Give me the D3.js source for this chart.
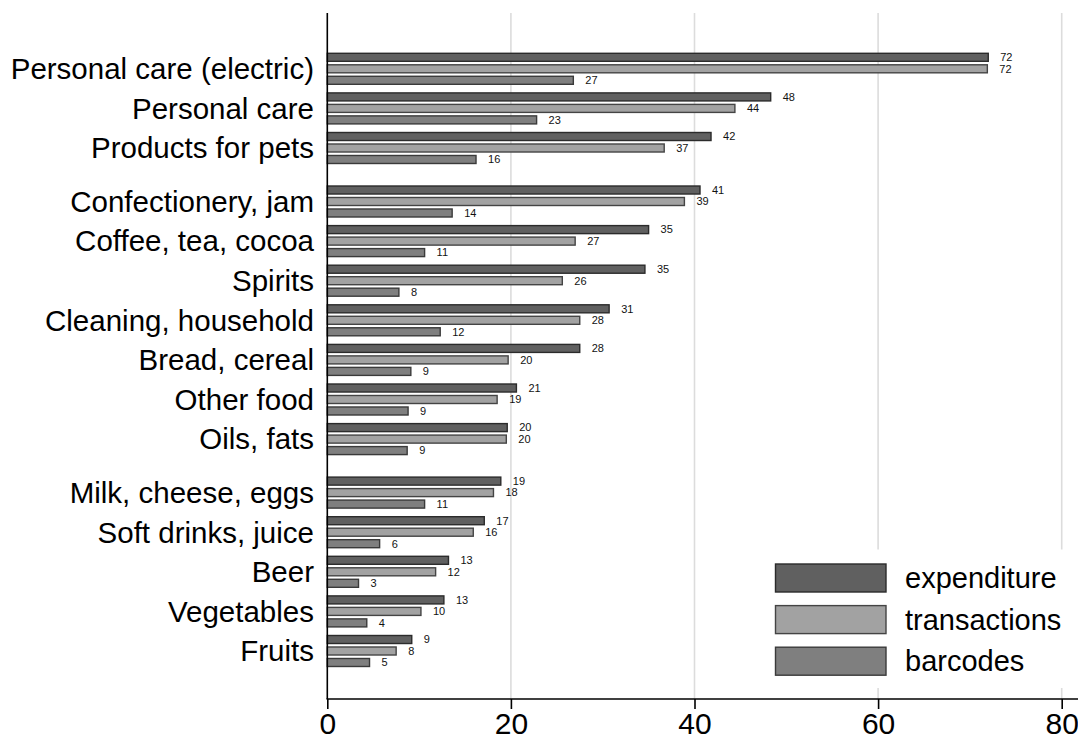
<!DOCTYPE html>
<html>
<head>
<meta charset="utf-8">
<script src="https://cdn.jsdelivr.net/npm/d3@7"></script>
<style>
  html, body { margin: 0; padding: 0; background: #fff; }
  svg { display: block; font-family: "Liberation Sans", Arial, Helvetica, sans-serif; }
</style>
</head>
<body>
<svg id="chart" width="1078" height="740"></svg>
<script>
// ---- data ----
const categories = [
  "Personal care (electric)", "Personal care", "Products for pets",
  "Confectionery, jam", "Coffee, tea, cocoa", "Spirits", "Cleaning, household",
  "Bread, cereal", "Other food", "Oils, fats",
  "Milk, cheese, eggs", "Soft drinks, juice", "Beer", "Vegetables", "Fruits"
];
const blocks = [0, 0, 0, 1, 1, 1, 1, 1, 1, 1, 2, 2, 2, 2, 2];
const seriesNames = ["expenditure", "transactions", "barcodes"];
const expenditure  = [72, 48.3, 41.8, 40.6, 35, 34.6, 30.7, 27.5, 20.6, 19.6, 18.9, 17.1, 13.2, 12.7, 9.2];
const transactions = [71.9, 44.4, 36.7, 38.9, 27, 25.6, 27.5, 19.7, 18.5, 19.5, 18.1, 15.9, 11.8, 10.2, 7.5];
const barcodes     = [26.8, 22.8, 16.2, 13.6, 10.6, 7.8, 12.3, 9.1, 8.8, 8.7, 10.6, 5.7, 3.4, 4.3, 4.6];
const labelExp   = [72, 48, 42, 41, 35, 35, 31, 28, 21, 20, 19, 17, 13, 13, 9];
const labelTrans = [72, 44, 37, 39, 27, 26, 28, 20, 19, 20, 18, 16, 12, 10, 8];
const labelBar   = [27, 23, 16, 14, 11, 8, 12, 9, 9, 9, 11, 6, 3, 4, 5];
const xTicks = [0, 20, 40, 60, 80];

const seriesValues = [expenditure, transactions, barcodes];
const seriesLabels = [labelExp, labelTrans, labelBar];
const fills = ["#606060", "#a2a2a2", "#7f7f7f"];
const strokes = ["#2b2b2b", "#444444", "#3a3a3a"];

// ---- layout ----
const svg = d3.select("#chart");
const blockGap = 0.351;
const pos = categories.map((c, i) => i + blocks[i] * blockGap);
const lastPos = pos[pos.length - 1];

const x = d3.scaleLinear().domain([0, 80]).range([327.3, 1061.7]);
const y = d3.scaleLinear().domain([0, lastPos]).range([68.8, 68.8 + lastPos * 39.6]);
const inner = d3.scaleBand().domain(seriesNames).range([-16.2, 16.2]).paddingInner(0.18).paddingOuter(0);

const axisY = 699;
const gridTop = 13;

// gridlines
svg.append("g").selectAll("line")
  .data(xTicks.filter(t => t > 0))
  .join("line")
  .attr("x1", d => x(d)).attr("x2", d => x(d))
  .attr("y1", gridTop).attr("y2", axisY)
  .attr("stroke", "#dcdcdc").attr("stroke-width", 1.6);

// bars
const groups = svg.append("g").selectAll("g")
  .data(categories)
  .join("g")
  .attr("transform", (d, i) => `translate(0,${y(pos[i])})`);

seriesNames.forEach((s, si) => {
  groups.append("rect")
    .attr("x", x(0))
    .attr("y", inner(s) + 0.7)
    .attr("width", (d, i) => x(seriesValues[si][i]) - x(0))
    .attr("height", inner.bandwidth() - 1.4)
    .attr("fill", fills[si])
    .attr("stroke", strokes[si])
    .attr("stroke-width", 1.4);
  groups.append("text")
    .attr("x", (d, i) => x(seriesValues[si][i]) + 12)
    .attr("y", inner(s) + inner.bandwidth() / 2)
    .attr("dy", "0.35em")
    .attr("font-size", 11)
    .attr("fill", "#111")
    .text((d, i) => seriesLabels[si][i]);
});

// category labels
groups.append("text")
  .attr("x", 314)
  .attr("y", 0)
  .attr("dy", "0.35em")
  .attr("text-anchor", "end")
  .attr("font-size", 29.5)
  .attr("fill", "#000")
  .text(d => d);

// left axis line
svg.append("line")
  .attr("x1", x(0)).attr("x2", x(0))
  .attr("y1", gridTop).attr("y2", axisY)
  .attr("stroke", "#000").attr("stroke-width", 1.6);

// legend (white background covering gridlines)
const legend = svg.append("g");
legend.append("rect")
  .attr("x", 765).attr("y", 549.5).attr("width", 313).attr("height", 138.5)
  .attr("fill", "#fff");
const legY = d3.scalePoint().domain(seriesNames).range([578, 661.2]);
seriesNames.forEach((s, si) => {
  legend.append("rect")
    .attr("x", 775.5).attr("y", legY(s) - 14)
    .attr("width", 110.5).attr("height", 28)
    .attr("fill", fills[si]).attr("stroke", strokes[si]).attr("stroke-width", 1.4);
  legend.append("text")
    .attr("x", 905).attr("y", legY(s)).attr("dy", "0.35em")
    .attr("font-size", 29).attr("fill", "#000")
    .text(s);
});

// bottom axis
const xAxis = d3.axisBottom(x).tickValues(xTicks).tickSize(10).tickPadding(4).tickFormat(d3.format("d"));
const ax = svg.append("g").attr("transform", `translate(0,${axisY})`).call(xAxis);
ax.select(".domain").remove();
ax.selectAll(".tick line").attr("stroke", "#000").attr("stroke-width", 1.6);
ax.selectAll(".tick text").attr("font-size", 30).attr("fill", "#000")
  .attr("font-family", "'Liberation Sans', Arial, sans-serif")
  .attr("dy", "0.71em");
svg.append("line")
  .attr("x1", x(0) - 0.8).attr("x2", 1078)
  .attr("y1", axisY).attr("y2", axisY)
  .attr("stroke", "#000").attr("stroke-width", 1.6);
</script>
</body>
</html>
